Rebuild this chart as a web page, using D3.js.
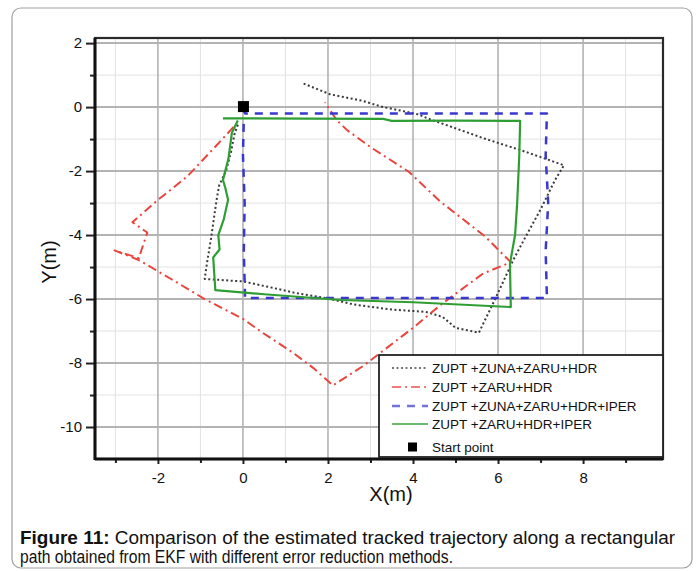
<!DOCTYPE html>
<html>
<head>
<meta charset="utf-8">
<script src="https://cdn.jsdelivr.net/npm/d3@7"></script>
<style>
  body { margin: 0; background: #fff; }
  text { font-family: "Liberation Sans", Arial, sans-serif; }
</style>
</head>
<body>
<div id="content"></div>
<script>
// tick values
const xMajor = [-2, 0, 2, 4, 6, 8];
const xMinor = [-3, -1, 1, 3, 5, 7, 9];
const yMajor = [2, 0, -2, -4, -6, -8, -10];
const yMinor = [1, -1, -3, -5, -7, -9];

const legendNames = [
  "ZUPT +ZUNA+ZARU+HDR",
  "ZUPT +ZARU+HDR",
  "ZUPT +ZUNA+ZARU+HDR+IPER",
  "ZUPT +ZARU+HDR+IPER",
  "Start point",
];

// trajectories, [x, y] in metres
const zunaZaruHdr = [
  [-0.12, -0.55], [-0.2, -0.85], [-0.28, -1.4], [-0.4, -2.0], [-0.56, -2.45],
  [-0.62, -2.9], [-0.68, -3.45], [-0.75, -4.1], [-0.8, -4.5], [-0.86, -5.0],
  [-0.9, -5.37], [0.0, -5.45], [0.6, -5.62], [1.2, -5.8], [2.0, -5.98],
  [2.6, -6.17], [3.5, -6.33], [4.3, -6.4], [4.7, -6.56], [5.0, -6.9],
  [5.55, -7.05], [5.95, -5.95], [6.35, -4.8], [6.65, -4.05], [7.0, -3.2],
  [7.34, -2.28], [7.55, -1.82], [7.15, -1.63], [6.52, -1.34], [5.65, -0.97],
  [4.4, -0.38], [4.1, -0.22], [3.5, -0.05], [3.3, 0.0], [2.8, 0.2],
  [2.05, 0.4], [1.4, 0.75],
];

const zaruHdr = [
  [-0.22, -0.62], [-0.8, -1.45], [-1.32, -2.18], [-2.0, -2.9], [-2.6, -3.6],
  [-2.25, -3.92], [-2.45, -4.72], [-3.02, -4.48], [-2.45, -4.78], [-1.72, -5.35],
  [-0.9, -6.0], [0.0, -6.62], [0.47, -7.06], [1.2, -7.7], [1.65, -8.15],
  [2.12, -8.7], [2.82, -8.1], [4.0, -6.9], [4.7, -6.13], [5.65, -5.2],
  [6.3, -4.85], [5.7, -4.05], [4.64, -2.95], [3.9, -2.02], [3.0, -1.25],
  [2.45, -0.72], [2.2, -0.4], [1.93, 0.15],
];

const zunaZaruHdrIper = [
  [0.0, -0.05], [0.05, -0.2], [3.5, -0.2], [7.15, -0.2], [7.12, -1.5],
  [7.18, -3.0], [7.12, -4.5], [7.15, -5.97], [3.5, -5.97], [0.05, -5.97],
  [0.02, -4.5], [0.04, -3.0], [0.0, -1.5], [0.02, -0.4],
];

const zaruHdrIper = [
  [-0.47, -0.35], [1.5, -0.36], [3.3, -0.37], [3.5, -0.43], [5.0, -0.42],
  [6.52, -0.43], [6.5, -1.5], [6.45, -3.0], [6.4, -4.0], [6.28, -4.9],
  [6.3, -6.25], [4.0, -6.1], [2.3, -6.03], [0.5, -5.85], [-0.65, -5.72],
  [-0.7, -4.7], [-0.55, -4.45], [-0.58, -4.0], [-0.45, -3.5], [-0.35, -2.9],
  [-0.42, -2.5], [-0.47, -2.28], [-0.34, -1.6], [-0.26, -0.8], [-0.12, -0.42],
];

const startPoint = [0, 0];

const series = [
  { pts: zunaZaruHdr, color: "#3a3a3a", width: 2, dash: "2,2.5" },
  { pts: zaruHdr, color: "#e8453e", width: 2, dash: "9,4,2,4" },
  { pts: zunaZaruHdrIper, color: "#3838d0", width: 2.5, dash: "8,7" },
  { pts: zaruHdrIper, color: "#2e9e34", width: 2.2, dash: null },
];

const W = 697, H = 571;
const pLeft = 95, pRight = 663, pTop = 38, pBottom = 459;

const svg = d3.select("#content").append("svg")
  .attr("width", W).attr("height", H);

// figure frame
svg.append("rect")
  .attr("x", 12).attr("y", 8).attr("width", 680).attr("height", 560)
  .attr("rx", 9).attr("fill", "none").attr("stroke", "#a0a0a0").attr("stroke-width", 1.2);

const x = d3.scaleLinear().domain([-3.48, 9.88]).range([pLeft, pRight]);
const y = d3.scaleLinear().domain([2.16, -11.0]).range([pTop, pBottom]);

// grid
const grid = svg.append("g");
grid.selectAll(".vmin").data(xMinor).enter().append("line")
  .attr("x1", d => x(d)).attr("x2", d => x(d)).attr("y1", pTop).attr("y2", pBottom)
  .attr("stroke", "#e2e2e2").attr("stroke-width", 1);
grid.selectAll(".hmin").data(yMinor).enter().append("line")
  .attr("x1", pLeft).attr("x2", pRight).attr("y1", d => y(d)).attr("y2", d => y(d))
  .attr("stroke", "#e2e2e2").attr("stroke-width", 1);
grid.selectAll(".vmaj").data(xMajor).enter().append("line")
  .attr("x1", d => x(d)).attr("x2", d => x(d)).attr("y1", pTop).attr("y2", pBottom)
  .attr("stroke", "#a8a8a8").attr("stroke-width", 1.4);
grid.selectAll(".hmaj").data(yMajor).enter().append("line")
  .attr("x1", pLeft).attr("x2", pRight).attr("y1", d => y(d)).attr("y2", d => y(d))
  .attr("stroke", "#b4b4b4").attr("stroke-width", 2);

// trajectories
const line = d3.line().x(d => x(d[0])).y(d => y(d[1]));
svg.append("g").selectAll("path").data(series).enter().append("path")
  .attr("d", d => line(d.pts))
  .attr("fill", "none")
  .attr("stroke", d => d.color)
  .attr("stroke-width", d => d.width)
  .attr("stroke-dasharray", d => d.dash)
  .attr("stroke-linejoin", "round");

svg.append("rect")
  .attr("x", x(startPoint[0]) - 5).attr("y", y(startPoint[1]) - 6)
  .attr("width", 11).attr("height", 11).attr("fill", "#000");

// axes (plain hyphen for negatives, like the original)
const fmt = d => String(d);
const xAxis = svg.append("g").attr("transform", `translate(0,${pBottom})`)
  .call(d3.axisBottom(x).tickValues(xMajor).tickSize(5).tickPadding(8).tickFormat(fmt));
svg.append("g").attr("transform", `translate(0,${pBottom})`)
  .call(d3.axisBottom(x).tickValues(xMinor).tickSize(4).tickFormat(""))
  .call(g => g.select(".domain").remove());
const yAxis = svg.append("g").attr("transform", `translate(${pLeft},0)`)
  .call(d3.axisLeft(y).tickValues(yMajor).tickSize(9).tickPadding(4).tickFormat(fmt));
svg.append("g").attr("transform", `translate(${pLeft},0)`)
  .call(d3.axisLeft(y).tickValues(yMinor).tickSize(5).tickFormat(""))
  .call(g => g.select(".domain").remove());

svg.selectAll(".tick line").attr("stroke", "#222").attr("stroke-width", 2);
svg.selectAll(".tick text").attr("font-size", 15).attr("fill", "#111")
  .attr("font-family", "Liberation Sans, Arial, sans-serif");
xAxis.select(".domain").remove();
yAxis.select(".domain").remove();

// plot border
svg.append("rect")
  .attr("x", pLeft).attr("y", pTop).attr("width", pRight - pLeft).attr("height", pBottom - pTop)
  .attr("fill", "none").attr("stroke", "#2a2a2a").attr("stroke-width", 2.2);
svg.append("line").attr("x1", pLeft).attr("x2", pLeft).attr("y1", pTop).attr("y2", pBottom + 1)
  .attr("stroke", "#111").attr("stroke-width", 3);
svg.append("line").attr("x1", pLeft).attr("x2", pRight).attr("y1", pBottom).attr("y2", pBottom)
  .attr("stroke", "#111").attr("stroke-width", 3);

// axis labels
svg.append("text").attr("x", 391).attr("y", 501).attr("text-anchor", "middle")
  .attr("font-size", 20).attr("fill", "#111").text("X(m)");
svg.append("text").attr("transform", "translate(56,262) rotate(-90)")
  .attr("text-anchor", "middle").attr("font-size", 20).attr("fill", "#111").text("Y(m)");

// legend
const lg = svg.append("g");
lg.append("rect").attr("x", 379).attr("y", 355).attr("width", 284).attr("height", 102)
  .attr("fill", "#fff").attr("stroke", "#222").attr("stroke-width", 1.8);
const rowY = [368, 387, 406, 424, 447];
legendNames.forEach((name, i) => {
  if (i < 4) {
    const s = series[i];
    lg.append("line").attr("x1", 392).attr("x2", 428).attr("y1", rowY[i]).attr("y2", rowY[i])
      .attr("stroke", s.color).attr("stroke-width", s.width).attr("opacity", 0.7)
      .attr("stroke-dasharray", s.dash);
  } else {
    lg.append("rect").attr("x", 408).attr("y", rowY[i] - 4.5).attr("width", 9).attr("height", 9)
      .attr("fill", "#000");
  }
  lg.append("text").attr("x", 432).attr("y", rowY[i] + 5)
    .attr("font-size", 13.5).attr("fill", "#111").text(name);
});

// caption
const cap = svg.append("text").attr("x", 20).attr("y", 544).attr("font-size", 17.5)
  .attr("fill", "#111").attr("textLength", 655).attr("lengthAdjust", "spacingAndGlyphs");
cap.append("tspan").attr("font-weight", "bold").text("Figure 11:");
cap.append("tspan").text(" Comparison of the estimated tracked trajectory along a rectangular");
svg.append("text").attr("x", 20).attr("y", 563).attr("font-size", 17.5).attr("fill", "#111")
  .attr("textLength", 433).attr("lengthAdjust", "spacingAndGlyphs")
  .text("path obtained from EKF with different error reduction methods.");
</script>
</body>
</html>
